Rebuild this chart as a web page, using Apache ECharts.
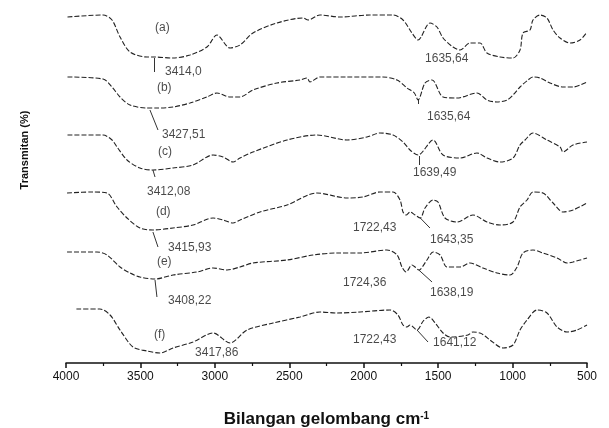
<!DOCTYPE html>
<html>
<head>
<meta charset="utf-8">
<script src="https://cdn.jsdelivr.net/npm/echarts@6/dist/echarts.min.js"></script>
<style>
  html, body { margin: 0; padding: 0; background: #fff; }
  #chart { width: 609px; height: 428px; }
</style>
</head>
<body>
<div id="chart"></div>
<script>
// spektrum FTIR (a)-(f), [bilangan gelombang, transmitan (offset)]
var curveA = [[3990,346],[3751,348],[3691,343],[3637,326],[3570,311],[3456,306],[3414,306],[3281,305],[3167,308],[3053,316],[2986,328],[2898,315],[2831,318],[2744,330],[2583,340],[2408,345],[2374,343],[2294,348],[2159,346],[1958,348],[1803,348],[1736,343],[1676,330],[1635,323],[1555,340],[1508,336],[1467,325],[1400,316],[1353,313],[1286,320],[1219,320],[1172,310],[1084,306],[997,305],[950,313],[930,330],[883,333],[863,343],[816,348],[769,345],[728,333],[681,325],[614,320],[547,323],[500,331]];
var curveB = [[3990,286],[3751,284],[3691,276],[3637,266],[3570,258],[3456,255],[3389,255],[3281,256],[3167,260],[3053,266],[2986,270],[2898,266],[2831,266],[2744,273],[2583,280],[2428,283],[2381,285],[2361,281],[2294,286],[2112,286],[1871,286],[1776,283],[1709,275],[1660,270],[1635,263],[1588,280],[1541,283],[1467,266],[1373,265],[1239,270],[1172,263],[1105,261],[1037,263],[997,268],[950,276],[896,283],[863,286],[816,285],[749,280],[661,276],[594,276],[500,281]];
var curveC = [[3990,228],[3751,228],[3691,223],[3657,216],[3590,203],[3503,195],[3416,193],[3281,195],[3147,198],[3012,208],[2945,206],[2878,201],[2831,205],[2744,211],[2515,223],[2314,228],[2112,223],[1978,226],[1891,230],[1803,228],[1736,221],[1689,213],[1635,208],[1534,223],[1467,208],[1353,205],[1239,210],[1172,205],[1084,201],[997,205],[950,218],[916,223],[863,230],[769,223],[681,216],[661,211],[594,218],[500,221]];
var curveD = [[3993,170],[3819,171],[3725,170],[3657,156],[3590,145],[3503,135],[3416,133],[3281,135],[3147,138],[3012,145],[2945,143],[2878,140],[2831,143],[2697,151],[2515,158],[2314,170],[2112,165],[2005,166],[1891,171],[1803,171],[1756,163],[1736,151],[1715,148],[1689,151],[1655,148],[1620,145],[1588,155],[1534,163],[1501,161],[1454,145],[1373,141],[1266,148],[1172,141],[1084,138],[997,141],[950,156],[903,163],[863,171],[796,170],[728,160],[661,151],[594,153],[500,160]];
var curveE = [[3993,111],[3792,111],[3725,108],[3637,96],[3570,90],[3503,86],[3402,84],[3281,88],[3120,91],[3012,95],[2918,93],[2831,96],[2744,100],[2515,103],[2341,108],[2179,110],[2025,110],[1844,113],[1776,108],[1743,96],[1715,91],[1676,98],[1655,96],[1630,93],[1575,103],[1534,111],[1487,108],[1440,96],[1353,96],[1286,100],[1199,95],[1105,90],[1017,88],[970,96],[930,110],[863,113],[796,110],[701,105],[634,100],[594,101],[500,105]];
var curveF = [[3930,54],[3772,54],[3704,48],[3637,33],[3550,16],[3456,12],[3369,10],[3281,15],[3147,21],[3012,30],[2898,20],[2784,33],[2609,40],[2428,46],[2294,51],[2179,50],[2025,51],[1823,53],[1770,48],[1736,38],[1710,36],[1689,38],[1642,33],[1600,42],[1562,46],[1520,40],[1467,30],[1420,26],[1300,28],[1266,31],[1219,30],[1185,27],[1152,23],[1064,15],[997,18],[950,33],[903,43],[836,53],[769,50],[701,36],[634,31],[567,33],[500,38]];

// label (a)-(f) dan label puncak: [x, y, teks]
var panelLabels = [[3402,335,'(a)'],[3389,275,'(b)'],[3382,211,'(c)'],[3396,151,'(d)'],[3389,101,'(e)'],[3409,28,'(f)']];
var peakLabels = [
  [3335,291,'3414,0'],[3355,228,'3427,51'],[3456,171,'3412,08'],[3315,115,'3415,93'],[3315,62,'3408,22'],[3133,10,'3417,86'],
  [1588,304,'1635,64'],[1575,246,'1635,64'],[1669,190,'1639,49'],
  [2072,135,'1722,43'],[1555,123,'1643,35'],
  [2139,80,'1724,36'],[1555,70,'1638,19'],
  [2072,23,'1722,43'],[1534,20,'1641,12']
];
// garis penunjuk puncak
var leaders = [
  [[3410,305],[3410,291]],
  [[3436,253],[3382,233]],
  [[3416,193],[3402,186]],
  [[3416,131],[3382,116]],
  [[3402,83],[3389,66]],
  [[1635,264],[1635,259]],
  [[1630,207],[1630,198]],
  [[1620,145],[1555,135]],
  [[1630,93],[1541,81]],
  [[1642,33],[1568,21]]
];
var xTicks = { min: 500, max: 4000, step: 500 };

var fontFam = "'Liberation Sans', Arial, sans-serif";
var chart = echarts.init(document.getElementById('chart'));

var curves = [curveA, curveB, curveC, curveD, curveE, curveF];
var series = curves.map(function (c) {
  return {
    type: 'line',
    data: c,
    showSymbol: false,
    smooth: 0.3,
    silent: true,
    lineStyle: { color: '#222', width: 1.1, type: [5, 2] }
  };
});

series.push({
  type: 'lines',
  coordinateSystem: 'cartesian2d',
  silent: true,
  lineStyle: { color: '#333', width: 1, opacity: 1 },
  data: leaders.map(function (l) { return { coords: l }; })
});

series.push({
  type: 'scatter',
  symbolSize: 0,
  silent: true,
  data: panelLabels.concat(peakLabels),
  label: {
    show: true,
    position: 'right',
    distance: 0,
    formatter: function (p) { return p.data[2]; },
    fontSize: 12,
    color: '#1a1a1a',
    fontFamily: fontFam
  }
});

var option = {
  animation: false,
  grid: { left: 66, right: 22, top: 5, bottom: 65, outerBoundsMode: 'none' },
  xAxis: {
    type: 'value',
    inverse: true,
    min: xTicks.min,
    max: xTicks.max,
    interval: xTicks.step,
    name: 'Bilangan gelombang cm{sup|-1}',
    nameLocation: 'middle',
    nameGap: 48,
    nameTextStyle: {
      fontSize: 17,
      fontWeight: 'bold',
      color: '#111',
      fontFamily: fontFam,
      rich: {
        sup: { fontSize: 10, fontWeight: 'bold', color: '#111', fontFamily: fontFam, verticalAlign: 'top' }
      }
    },
    axisLine: { lineStyle: { color: '#111', width: 1.5 } },
    axisTick: { length: 5, lineStyle: { color: '#111', width: 1.5 } },
    minorTick: { show: true, splitNumber: 2, length: 3, lineStyle: { color: '#111', width: 1.2 } },
    splitLine: { show: false },
    axisLabel: {
      fontSize: 12,
      color: '#111',
      margin: 8,
      fontFamily: fontFam,
      formatter: function (v) { return String(v); }
    }
  },
  yAxis: { type: 'value', min: 0, max: 358, show: false },
  graphic: [{
    type: 'text',
    x: 25,
    y: 150,
    rotation: Math.PI / 2,
    style: {
      text: 'Transmitan (%)',
      font: 'bold 11px ' + fontFam,
      fill: '#111',
      align: 'center',
      verticalAlign: 'middle'
    }
  }],
  series: series
};
chart.setOption(option);
</script>
</body>
</html>
